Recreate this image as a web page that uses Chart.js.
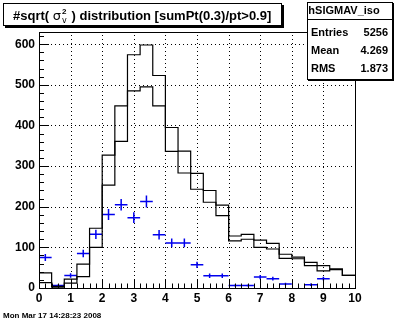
<!DOCTYPE html>
<html>
<head>
<meta charset="utf-8">
<script src="https://cdn.jsdelivr.net/npm/chart.js@4"></script>
<style>
  body { margin: 0; background: #fff; }
  canvas { display: block; }
</style>
</head>
<body>
<canvas id="myChart" width="396" height="322"></canvas>
<script>
// histogram binning: 25 bins of 0.4 from 0 to 10
const binWidth = 0.4;
const xTicks = [0, 1, 2, 3, 4, 5, 6, 7, 8, 9, 10];
const yTicks = [0, 100, 200, 300, 400, 500, 600];

// outer (higher) histogram
const upperCounts = [37, 4, 22, 59, 147, 327, 448, 574, 598, 523, 395, 337, 282, 240, 204, 128, 132, 118, 110, 83, 76, 63, 55, 47, 31];
// inner (lower) histogram
const lowerCounts = [13, 2, 12, 28, 100, 253, 361, 485, 495, 448, 336, 283, 243, 211, 178, 116, 120, 100, 96, 73, 72, 55, 42, 45, 31];
// blue points with errors, at bin centres
const markerX = [0.2, 0.6, 1.0, 1.4, 1.8, 2.2, 2.6, 3.0, 3.4, 3.8, 4.2, 4.6, 5.0, 5.4, 5.8, 6.2, 6.6, 7.0, 7.4, 7.8, 8.2, 8.6, 9.0, 9.4, 9.8];
const markerCounts = [75, 6, 31, 85, 132, 181, 205, 173, 213, 131, 111, 111, 57, 30, 30, 6, 6, 27, 23, 10, 0, 8, 23, 0, 0];

const statsLabels = ['Entries', 'Mean', 'RMS'];
const statsValues = ['5256', '4.269', '1.873'];

function stepPoints(counts) {
    let pts = [];
    counts.forEach(function (c, i) {
        pts.push({ x: i * binWidth, y: c });
        pts.push({ x: (i + 1) * binWidth, y: c });
    });
    return pts;
}

function errorPoints() {
    let pts = [];
    markerX.forEach(function (x, i) {
        let v = markerCounts[i];
        if (v <= 0) return;
        let e = Math.sqrt(v);
        pts.push({ x: x - binWidth / 2, y: v });
        pts.push({ x: x + binWidth / 2, y: v });
        pts.push({ x: x, y: null });
        pts.push({ x: x, y: v - e });
        pts.push({ x: x, y: v + e });
        pts.push({ x: x, y: null });
    });
    return pts;
}

const FONT = '"Liberation Sans", Arial, sans-serif';

// white page, dotted grid, frame, inner ticks, title and stats boxes
const rootStyle = {
    id: 'rootStyle',
    beforeDraw: function (chart) {
        let ctx = chart.ctx;
        ctx.save();
        ctx.fillStyle = '#fff';
        ctx.fillRect(0, 0, chart.width, chart.height);
        ctx.restore();
    },
    beforeDatasetsDraw: function (chart) {
        let ctx = chart.ctx;
        let a = chart.chartArea;
        let xs = chart.scales.x, ys = chart.scales.y;
        ctx.save();
        ctx.strokeStyle = '#000';
        ctx.lineWidth = 1;
        ctx.setLineDash([1, 3]);
        ctx.beginPath();
        xTicks.forEach(function (v) {
            let px = Math.round(xs.getPixelForValue(v)) + 0.5;
            ctx.moveTo(px, a.bottom);
            ctx.lineTo(px, a.top);
        });
        yTicks.forEach(function (v) {
            let py = Math.round(ys.getPixelForValue(v)) + 0.5;
            ctx.moveTo(a.left, py);
            ctx.lineTo(a.right, py);
        });
        ctx.stroke();
        ctx.restore();
    },
    afterDraw: function (chart) {
        let ctx = chart.ctx;
        let a = chart.chartArea;
        let xs = chart.scales.x, ys = chart.scales.y;
        ctx.save();
        ctx.strokeStyle = '#000';
        ctx.lineWidth = 1;

        // ticks inside the frame
        ctx.beginPath();
        for (let i = 0; i <= 50; i++) {
            let px = Math.round(xs.getPixelForValue(i * 0.2)) + 0.5;
            let len = (i % 5 === 0) ? 9 : 4.5;
            ctx.moveTo(px, a.bottom);
            ctx.lineTo(px, a.bottom - len);
        }
        for (let v = 0; v <= ys.max; v += 20) {
            let py = Math.round(ys.getPixelForValue(v)) + 0.5;
            let len = (v % 100 === 0) ? 10 : 5;
            ctx.moveTo(a.left, py);
            ctx.lineTo(a.left + len, py);
        }
        ctx.stroke();

        // frame
        ctx.strokeRect(Math.round(a.left) + 0.5, Math.round(a.top) + 0.5,
            Math.round(a.right - a.left), Math.round(a.bottom - a.top));

        // title box
        ctx.fillStyle = '#000';
        ctx.fillRect(5, 5, 279, 23);
        ctx.fillStyle = '#fff';
        ctx.fillRect(3, 3, 279, 23);
        ctx.strokeRect(3.5, 3.5, 278, 22);
        ctx.fillStyle = '#000';
        ctx.textBaseline = 'alphabetic';
        let tx = 13, ty = 20;
        ctx.font = 'bold 13px ' + FONT;
        ctx.fillText('#sqrt( ', tx, ty);
        tx += ctx.measureText('#sqrt( ').width;
        ctx.font = '13px "DejaVu Sans"';
        ctx.fillText('\u03c3', tx, ty);
        tx += ctx.measureText('\u03c3').width + 1;
        ctx.font = 'bold 8px ' + FONT;
        ctx.fillText('2', tx, ty - 6);
        ctx.font = '8px "DejaVu Sans"';
        ctx.fillText('v', tx, ty + 3);
        tx += 6;
        ctx.font = 'bold 13px ' + FONT;
        ctx.fillText(' ) distribution [sumPt(0.3)/pt>0.9]', tx, ty);

        // stats box
        ctx.fillStyle = '#000';
        ctx.fillRect(308, 3, 86, 78);
        ctx.fillStyle = '#fff';
        ctx.fillRect(307, 2, 85, 77);
        ctx.strokeRect(307.5, 2.5, 85, 77);
        ctx.beginPath();
        ctx.moveTo(307, 19.5);
        ctx.lineTo(392, 19.5);
        ctx.stroke();
        ctx.fillStyle = '#000';
        ctx.textBaseline = 'middle';
        ctx.font = 'bold 11px ' + FONT;
        ctx.textAlign = 'center';
        ctx.fillText('hSIGMAV_iso', 344, 11);
        statsLabels.forEach(function (lab, i) {
            let y = 33 + i * 18;
            ctx.textAlign = 'left';
            ctx.fillText(lab, 311, y);
            ctx.textAlign = 'right';
            ctx.fillText(statsValues[i], 388, y);
        });

        // date stamp
        ctx.textAlign = 'left';
        ctx.font = 'bold 8px ' + FONT;
        ctx.fillText('Mon Mar 17 14:28:23 2008', 3, 316);
        ctx.restore();
    }
};

let ctx = document.getElementById('myChart').getContext('2d');
let histChart = new Chart(ctx, {
    type: 'line',
    data: {
        datasets: [{
            label: 'upper',
            data: stepPoints(upperCounts),
            borderColor: '#000',
            borderWidth: 1.2,
            pointRadius: 0,
            tension: 0
        }, {
            label: 'lower',
            data: stepPoints(lowerCounts),
            borderColor: '#000',
            borderWidth: 1.2,
            pointRadius: 0,
            tension: 0
        }, {
            label: 'points',
            data: errorPoints(),
            borderColor: '#0000ee',
            borderWidth: 1.5,
            pointRadius: 0,
            tension: 0,
            spanGaps: false
        }]
    },
    options: {
        responsive: false,
        animation: false,
        devicePixelRatio: 1,
        layout: { padding: { top: 32, right: 41, left: 0, bottom: 0 } },
        plugins: { legend: { display: false }, tooltip: { enabled: false } },
        scales: {
            x: {
                type: 'linear',
                min: 0,
                max: 10,
                afterBuildTicks: function (scale) {
                    scale.ticks = xTicks.map(function (v) { return { value: v }; });
                },
                afterFit: function (scale) { scale.height = 34; },
                ticks: {
                    color: '#000',
                    padding: 3,
                    maxRotation: 0,
                    font: { family: FONT, size: 12, weight: 'bold' }
                },
                grid: { display: false, drawTicks: false },
                border: { display: false }
            },
            y: {
                type: 'linear',
                min: 0,
                max: 630,
                afterBuildTicks: function (scale) {
                    scale.ticks = yTicks.map(function (v) { return { value: v }; });
                },
                afterFit: function (scale) { scale.width = 39; },
                ticks: {
                    color: '#000',
                    padding: 4,
                    font: { family: FONT, size: 12, weight: 'bold' }
                },
                grid: { display: false, drawTicks: false },
                border: { display: false }
            }
        }
    },
    plugins: [rootStyle]
});
</script>
</body>
</html>
